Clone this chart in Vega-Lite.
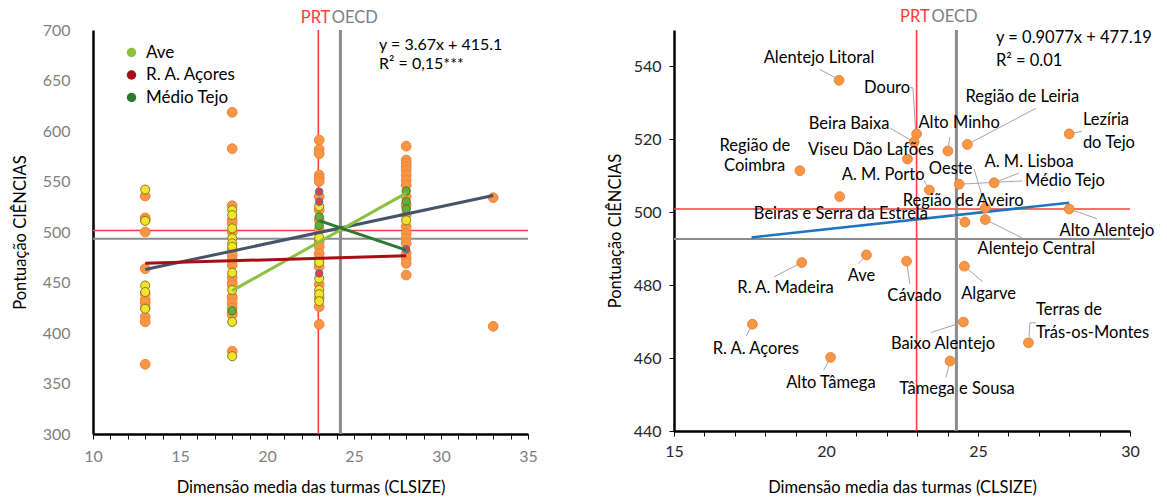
{
  "$schema": "https://vega.github.io/schema/vega-lite/v6.json",
  "padding": {"left": 12, "top": 9, "right": 2, "bottom": 0},
  "spacing": 69,
  "config": {
    "font": "Lato",
    "view": {"stroke": null},
    "axis": {"labelFont": "Lato", "titleFont": "Lato", "titleFontWeight": "normal", "titleColor": "#000000", "titleFontSize": 16.5, "labelFontSize": 16, "labelFlush": false, "gridDash": [2, 2], "gridColor": "#d9d9d9"}
  },
  "datasets": {
    "leftPts": [
      {"x": 13, "y": 535.6, "g": "o"}, {"x": 13, "y": 514, "g": "o"}, {"x": 13, "y": 512, "g": "o"}, {"x": 13, "y": 500, "g": "o"}, {"x": 13, "y": 463.6, "g": "o"}, {"x": 13, "y": 439, "g": "o"}, {"x": 13, "y": 433, "g": "o"}, {"x": 13, "y": 430, "g": "o"}, {"x": 13, "y": 425, "g": "o"}, {"x": 13, "y": 416, "g": "o"}, {"x": 13, "y": 411, "g": "o"}, {"x": 13, "y": 369, "g": "o"},
      {"x": 18, "y": 618.5, "g": "o"}, {"x": 18, "y": 582.5, "g": "o"}, {"x": 18, "y": 526, "g": "o"}, {"x": 18, "y": 512, "g": "o"}, {"x": 18, "y": 508.6, "g": "o"}, {"x": 18, "y": 500, "g": "o"}, {"x": 18, "y": 482, "g": "o"}, {"x": 18, "y": 477, "g": "o"}, {"x": 18, "y": 472, "g": "o"}, {"x": 18, "y": 467, "g": "o"}, {"x": 18, "y": 455, "g": "o"}, {"x": 18, "y": 449.8, "g": "o"}, {"x": 18, "y": 447.5, "g": "o"}, {"x": 18, "y": 436, "g": "o"}, {"x": 18, "y": 434, "g": "o"}, {"x": 18, "y": 429.4, "g": "o"}, {"x": 18, "y": 425, "g": "o"}, {"x": 18, "y": 420, "g": "o"}, {"x": 18, "y": 417.8, "g": "o"}, {"x": 18, "y": 382, "g": "o"},
      {"x": 23, "y": 591, "g": "o"}, {"x": 23, "y": 582, "g": "o"}, {"x": 23, "y": 577.5, "g": "o"}, {"x": 23, "y": 556.4, "g": "o"}, {"x": 23, "y": 553.2, "g": "o"}, {"x": 23, "y": 550, "g": "o"}, {"x": 23, "y": 535, "g": "o"}, {"x": 23, "y": 521.8, "g": "o"}, {"x": 23, "y": 511.9, "g": "o"}, {"x": 23, "y": 502, "g": "o"}, {"x": 23, "y": 490.4, "g": "o"}, {"x": 23, "y": 485.5, "g": "o"}, {"x": 23, "y": 478.9, "g": "o"}, {"x": 23, "y": 474, "g": "o"}, {"x": 23, "y": 465.7, "g": "o"}, {"x": 23, "y": 448, "g": "o"}, {"x": 23, "y": 434.4, "g": "o"}, {"x": 23, "y": 426, "g": "o"}, {"x": 23, "y": 408.5, "g": "o"},
      {"x": 28, "y": 585, "g": "o"}, {"x": 28, "y": 571.3, "g": "o"}, {"x": 28, "y": 568, "g": "o"}, {"x": 28, "y": 564.7, "g": "o"}, {"x": 28, "y": 561.4, "g": "o"}, {"x": 28, "y": 556.4, "g": "o"}, {"x": 28, "y": 551.5, "g": "o"}, {"x": 28, "y": 546.5, "g": "o"}, {"x": 28, "y": 535, "g": "o"}, {"x": 28, "y": 526.7, "g": "o"}, {"x": 28, "y": 516.8, "g": "o"}, {"x": 28, "y": 505.3, "g": "o"}, {"x": 28, "y": 498.7, "g": "o"}, {"x": 28, "y": 493.8, "g": "o"}, {"x": 28, "y": 488.8, "g": "o"}, {"x": 28, "y": 478.9, "g": "o"}, {"x": 28, "y": 474, "g": "o"}, {"x": 28, "y": 469, "g": "o"}, {"x": 28, "y": 457.4, "g": "o"},
      {"x": 33, "y": 534, "g": "o"}, {"x": 33, "y": 406.6, "g": "o"},
      {"x": 13, "y": 542, "g": "y"}, {"x": 13, "y": 511, "g": "y"}, {"x": 13, "y": 447, "g": "y"}, {"x": 13, "y": 440.6, "g": "y"}, {"x": 13, "y": 424, "g": "y"},
      {"x": 18, "y": 521.8, "g": "y"}, {"x": 18, "y": 516.8, "g": "y"}, {"x": 18, "y": 503.6, "g": "y"}, {"x": 18, "y": 493.8, "g": "y"}, {"x": 18, "y": 488.8, "g": "y"}, {"x": 18, "y": 485.5, "g": "y"}, {"x": 18, "y": 459.7, "g": "y"}, {"x": 18, "y": 442.6, "g": "y"}, {"x": 18, "y": 411, "g": "y"}, {"x": 18, "y": 377, "g": "y"},
      {"x": 23, "y": 525.5, "g": "y"}, {"x": 23, "y": 494.4, "g": "y"}, {"x": 23, "y": 470, "g": "y"}, {"x": 23, "y": 454, "g": "y"}, {"x": 23, "y": 442.6, "g": "y"}, {"x": 23, "y": 438.5, "g": "y"}, {"x": 23, "y": 431.5, "g": "y"},
      {"x": 28, "y": 511.5, "g": "y"},
      {"x": 18, "y": 422, "g": "g"}, {"x": 23, "y": 515, "g": "g"}, {"x": 23, "y": 506.5, "g": "g"}, {"x": 28, "y": 540.6, "g": "g"}, {"x": 28, "y": 530, "g": "g"}, {"x": 28, "y": 522.8, "g": "g"},
      {"x": 23, "y": 540, "g": "r"}, {"x": 23, "y": 530, "g": "r"}, {"x": 23, "y": 459, "g": "r"}, {"x": 28, "y": 482.9, "g": "r"}
    ],
    "leftLines": [
      {"region": "Ave", "x": 18, "y": 441.9}, {"region": "Ave", "x": 28, "y": 538.5},
      {"region": "R. A. Açores", "x": 13, "y": 469}, {"region": "R. A. Açores", "x": 28, "y": 476.5},
      {"region": "Médio Tejo", "x": 23, "y": 511.2}, {"region": "Médio Tejo", "x": 28, "y": 482}
    ],
    "rightPts": [
      {"name": "Alentejo Litoral", "x": 20.43, "y": 536.2},
      {"name": "Região de Coimbra", "x": 19.14, "y": 511.4},
      {"name": "Beiras e Serra da Estrela", "x": 20.45, "y": 504.3},
      {"name": "Douro", "x": 22.98, "y": 521.5},
      {"name": "Beira Baixa", "x": 22.9, "y": 519.3},
      {"name": "Viseu Dão Lafões", "x": 22.68, "y": 514.6},
      {"name": "Alto Minho", "x": 24.01, "y": 516.8},
      {"name": "Região de Leiria", "x": 24.65, "y": 518.6},
      {"name": "Lezíria do Tejo", "x": 28.0, "y": 521.5},
      {"name": "A. M. Porto", "x": 23.4, "y": 506.1},
      {"name": "Médio Tejo", "x": 24.38, "y": 507.7},
      {"name": "A. M. Lisboa", "x": 25.53, "y": 508.1},
      {"name": "Oeste", "x": 25.24, "y": 501.2},
      {"name": "Alentejo Central", "x": 25.24, "y": 498.0},
      {"name": "Região de Aveiro", "x": 24.57, "y": 497.3},
      {"name": "Alto Alentejo", "x": 28.0, "y": 500.9},
      {"name": "Ave", "x": 21.33, "y": 488.3},
      {"name": "R. A. Madeira", "x": 19.2, "y": 486.2},
      {"name": "Cávado", "x": 22.65, "y": 486.6},
      {"name": "Algarve", "x": 24.55, "y": 485.2},
      {"name": "Baixo Alentejo", "x": 24.52, "y": 469.9},
      {"name": "Terras de Trás-os-Montes", "x": 26.66, "y": 464.2},
      {"name": "Tâmega e Sousa", "x": 24.08, "y": 459.2},
      {"name": "R. A. Açores", "x": 17.58, "y": 469.3},
      {"name": "Alto Tâmega", "x": 20.15, "y": 460.2}
    ],
    "labelsC": [
      {"t": "Alentejo Litoral", "x": 19.77, "y": 542.2},
      {"t": "Douro", "x": 22.01, "y": 534.2},
      {"t": "Região de Leiria", "x": 26.46, "y": 531.6},
      {"t": "Beira Baixa", "x": 20.76, "y": 524.1},
      {"t": "Alto Minho", "x": 24.38, "y": 524.4},
      {"t": "Viseu Dão Lafões", "x": 21.48, "y": 517.1},
      {"t": "Região de", "x": 17.66, "y": 518.1},
      {"t": "Coimbra", "x": 17.65, "y": 512.6},
      {"t": "A. M. Porto", "x": 21.88, "y": 510.2},
      {"t": "Oeste", "x": 24.1, "y": 511.9},
      {"t": "A. M. Lisboa", "x": 26.68, "y": 513.9},
      {"t": "Médio Tejo", "x": 27.86, "y": 508.6},
      {"t": "Região de Aveiro", "x": 24.51, "y": 503.1},
      {"t": "Beiras e Serra da Estrela", "x": 20.49, "y": 499.5},
      {"t": "Alto Alentejo", "x": 29.24, "y": 494.9},
      {"t": "Alentejo Central", "x": 26.92, "y": 489.9},
      {"t": "Ave", "x": 21.17, "y": 482.4},
      {"t": "R. A. Madeira", "x": 18.67, "y": 479.25},
      {"t": "Cávado", "x": 22.91, "y": 476.9},
      {"t": "Algarve", "x": 25.35, "y": 477.5},
      {"t": "Baixo Alentejo", "x": 23.85, "y": 463.9},
      {"t": "R. A. Açores", "x": 17.69, "y": 462.5},
      {"t": "Alto Tâmega", "x": 20.16, "y": 453.25},
      {"t": "Tâmega e Sousa", "x": 24.31, "y": 451.5}
    ],
    "labelsL": [
      {"t": "Lezíria", "x": 28.45, "y": 525.3},
      {"t": "do Tejo", "x": 28.45, "y": 518.9},
      {"t": "Terras de", "x": 26.91, "y": 473.1},
      {"t": "Trás-os-Montes", "x": 26.91, "y": 466.75}
    ],
    "leaders": [
      {"x": 19.79, "y": 539.2, "x2": 20.32, "y2": 536.9},
      {"x": 22.77, "y": 534.25, "x2": 22.86, "y2": 534.1},
      {"x": 22.86, "y": 534.1, "x2": 22.95, "y2": 522.0},
      {"x": 26.9, "y": 528.5, "x2": 24.65, "y2": 518.6},
      {"x": 28.42, "y": 522.2, "x2": 28.0, "y2": 521.5},
      {"x": 22.11, "y": 523.1, "x2": 22.9, "y2": 519.2},
      {"x": 24.07, "y": 520.6, "x2": 24.01, "y2": 516.8},
      {"x": 23.22, "y": 508.8, "x2": 23.41, "y2": 506.1},
      {"x": 24.87, "y": 511.9, "x2": 25.25, "y2": 501.2},
      {"x": 26.35, "y": 510.75, "x2": 25.53, "y2": 508.1},
      {"x": 26.45, "y": 508.6, "x2": 24.38, "y2": 507.7},
      {"x": 24.14, "y": 499.5, "x2": 24.57, "y2": 497.3},
      {"x": 28.91, "y": 498.25, "x2": 28.0, "y2": 500.9},
      {"x": 26.46, "y": 492.9, "x2": 25.25, "y2": 498.0},
      {"x": 21.06, "y": 485.9, "x2": 21.33, "y2": 488.3},
      {"x": 18.29, "y": 482.3, "x2": 19.2, "y2": 486.2},
      {"x": 22.76, "y": 480.3, "x2": 22.65, "y2": 486.6},
      {"x": 25.15, "y": 481.0, "x2": 24.55, "y2": 485.2},
      {"x": 26.68, "y": 465.8, "x2": 26.71, "y2": 469.7},
      {"x": 26.71, "y": 469.7, "x2": 26.9, "y2": 469.7},
      {"x": 23.45, "y": 467.0, "x2": 24.52, "y2": 469.9},
      {"x": 17.37, "y": 466.0, "x2": 17.58, "y2": 469.3},
      {"x": 19.92, "y": 456.6, "x2": 20.15, "y2": 460.2},
      {"x": 23.95, "y": 454.7, "x2": 24.08, "y2": 459.2}
    ]
  },
  "hconcat": [
    {
      "width": 435,
      "height": 404,
      "encoding": {
        "x": {"type": "quantitative", "scale": {"domain": [10, 35], "nice": false, "zero": false},
          "axis": {"title": "Dimensão media das turmas (CLSIZE)", "values": [10,11,12,13,14,15,16,17,18,19,20,21,22,23,24,25,26,27,28,29,30,31,32,33,34,35],
            "labelExpr": "datum.value % 5 === 0 ? datum.label : ''", "labelColor": "#7f7f7f", "labelPadding": 9, "tickSize": 5, "tickColor": "#000000", "domainColor": "#000000", "domainWidth": 2.5, "titlePadding": 15,
            "gridColor": {"condition": {"test": "datum.value % 5 === 0", "value": "#d9d9d9"}, "value": "transparent"}}},
        "y": {"type": "quantitative", "scale": {"domain": [300, 700], "nice": false, "zero": false},
          "axis": {"title": "Pontuação CIÊNCIAS", "values": [300,350,400,450,500,550,600,650,700], "labelColor": "#7f7f7f", "ticks": false, "labelPadding": 23, "domainColor": "#000000", "domainWidth": 2.5, "titlePadding": 14}}
      },
      "layer": [
        {"data": {"values": [{}]}, "mark": {"type": "rule", "color": "#8c8c8c", "strokeWidth": 2}, "encoding": {"y": {"datum": 493.4}}},
        {"data": {"values": [{}]}, "mark": {"type": "rule", "color": "#ff3b3b", "strokeWidth": 1.6}, "encoding": {"y": {"datum": 501.5}}},
        {"data": {"values": [{}]}, "mark": {"type": "rule", "color": "#8c8c8c", "strokeWidth": 3}, "encoding": {"x": {"datum": 24.22}}},
        {"data": {"values": [{}]}, "mark": {"type": "rule", "color": "#ff3b3b", "strokeWidth": 1.6}, "encoding": {"x": {"datum": 22.95}}},
        {
          "data": {"name": "leftPts"},
          "mark": {"type": "point", "filled": true, "shape": "circle", "opacity": 1, "strokeWidth": 1},
          "encoding": {
            "x": {"field": "x", "type": "quantitative"},
            "y": {"field": "y", "type": "quantitative"},
            "fill": {"field": "g", "type": "nominal", "scale": {"domain": ["o", "y", "g", "r"], "range": ["#f79646", "#f1e52b", "#6aaa3a", "#ee3b3b"]}, "legend": null},
            "stroke": {"field": "g", "type": "nominal", "scale": {"domain": ["o", "y", "g", "r"], "range": ["#f08436", "#857a1c", "#3f7a1f", "#4a6fb5"]}, "legend": null},
            "size": {"field": "g", "type": "nominal", "scale": {"domain": ["o", "y", "g", "r"], "range": [95, 55, 65, 65]}, "legend": null}
          }
        },
        {
          "data": {"values": [{"x": 13, "y": 462.8}, {"x": 33, "y": 536.2}]},
          "mark": {"type": "line", "color": "#44546a", "strokeWidth": 3},
          "encoding": {"x": {"field": "x", "type": "quantitative"}, "y": {"field": "y", "type": "quantitative"}}
        },
        {
          "data": {"name": "leftLines"},
          "mark": {"type": "point", "filled": true, "shape": "circle", "size": 0, "opacity": 1},
          "encoding": {
            "x": {"field": "x", "type": "quantitative"},
            "y": {"field": "y", "type": "quantitative"},
            "color": {"field": "region", "type": "nominal", "scale": {"domain": ["Ave", "R. A. Açores", "Médio Tejo"], "range": ["#8cc13f", "#a50f15", "#2a7a30"]},
              "legend": {"title": null, "orient": "none", "legendX": 30, "legendY": 14, "symbolType": "circle", "symbolSize": 90, "symbolStrokeWidth": 0, "labelFontSize": 17, "labelFont": "Lato", "labelColor": "#000000", "rowPadding": 4.5, "labelOffset": 6}}
          }
        },
        {
          "data": {"name": "leftLines"},
          "mark": {"type": "line", "strokeWidth": 3},
          "encoding": {
            "x": {"field": "x", "type": "quantitative"},
            "y": {"field": "y", "type": "quantitative"},
            "color": {"field": "region", "type": "nominal", "scale": {"domain": ["Ave", "R. A. Açores", "Médio Tejo"], "range": ["#8cc13f", "#a50f15", "#2a7a30"]}, "legend": null}
          }
        },
        {
          "data": {"values": [{"t": "y = 3.67x + 415.1", "x": 26.44, "y": 685.3}, {"t": "R² = 0,15***", "x": 26.44, "y": 666.6}]},
          "mark": {"type": "text", "align": "left", "baseline": "middle", "fontSize": 16, "color": "#000000"},
          "encoding": {"x": {"field": "x", "type": "quantitative"}, "y": {"field": "y", "type": "quantitative"}, "text": {"field": "t"}}
        },
        {"data": {"values": [{}]}, "mark": {"type": "text", "text": "PRT", "align": "right", "baseline": "middle", "fontSize": 16.5, "color": "#ff3b3b"}, "encoding": {"x": {"datum": 23.64}, "y": {"datum": 711.6}}},
        {"data": {"values": [{}]}, "mark": {"type": "text", "text": "OECD", "align": "left", "baseline": "middle", "fontSize": 16.5, "color": "#7f7f7f"}, "encoding": {"x": {"datum": 23.72}, "y": {"datum": 711.6}}}
      ]
    },
    {
      "width": 456,
      "height": 401,
      "encoding": {
        "x": {"type": "quantitative", "scale": {"domain": [15, 30], "nice": false, "zero": false},
          "axis": {"title": "Dimensão media das turmas (CLSIZE)", "values": [15,16,17,18,19,20,21,22,23,24,25,26,27,28,29,30],
            "labelExpr": "datum.value % 5 === 0 ? datum.label : ''", "labelColor": "#262626", "labelPadding": 7, "tickSize": 5, "tickColor": "#000000", "domainColor": "#000000", "domainWidth": 2.5, "titlePadding": 20,
            "gridColor": {"condition": {"test": "datum.value % 5 === 0", "value": "#d9d9d9"}, "value": "transparent"}}},
        "y": {"type": "quantitative", "scale": {"domain": [440, 550], "nice": false, "zero": false},
          "axis": {"title": "Pontuação CIÊNCIAS", "values": [440, 460, 480, 500, 520, 540], "labelColor": "#262626", "tickSize": 5, "tickColor": "#000000", "labelPadding": 8, "domainColor": "#000000", "domainWidth": 2.5, "titlePadding": 10}}
      },
      "layer": [
        {"data": {"values": [{}]}, "mark": {"type": "rule", "color": "#8c8c8c", "strokeWidth": 2}, "encoding": {"y": {"datum": 492.7}}},
        {"data": {"values": [{}]}, "mark": {"type": "rule", "color": "#ff3b3b", "strokeWidth": 1.6}, "encoding": {"y": {"datum": 500.9}}},
        {"data": {"values": [{}]}, "mark": {"type": "rule", "color": "#8c8c8c", "strokeWidth": 3}, "encoding": {"x": {"datum": 24.29}}},
        {"data": {"values": [{}]}, "mark": {"type": "rule", "color": "#ff3b3b", "strokeWidth": 1.6}, "encoding": {"x": {"datum": 22.98}}},
        {
          "data": {"values": [{"x": 17.55, "y": 493.1}, {"x": 28.0, "y": 502.6}]},
          "mark": {"type": "line", "color": "#1f74c0", "strokeWidth": 2.5},
          "encoding": {"x": {"field": "x", "type": "quantitative"}, "y": {"field": "y", "type": "quantitative"}}
        },
        {
          "data": {"name": "leaders"},
          "mark": {"type": "rule", "color": "#a6a6a6", "strokeWidth": 1},
          "encoding": {"x": {"field": "x", "type": "quantitative"}, "y": {"field": "y", "type": "quantitative"}, "x2": {"field": "x2"}, "y2": {"field": "y2"}}
        },
        {
          "data": {"name": "rightPts"},
          "mark": {"type": "point", "filled": true, "shape": "circle", "size": 95, "fill": "#f79646", "stroke": "#f08436", "strokeWidth": 1, "opacity": 1},
          "encoding": {"x": {"field": "x", "type": "quantitative"}, "y": {"field": "y", "type": "quantitative"}}
        },
        {
          "data": {"name": "labelsC"},
          "mark": {"type": "text", "align": "center", "baseline": "middle", "fontSize": 16.5, "color": "#000000"},
          "encoding": {"x": {"field": "x", "type": "quantitative"}, "y": {"field": "y", "type": "quantitative"}, "text": {"field": "t"}}
        },
        {
          "data": {"name": "labelsL"},
          "mark": {"type": "text", "align": "left", "baseline": "middle", "fontSize": 16.5, "color": "#000000"},
          "encoding": {"x": {"field": "x", "type": "quantitative"}, "y": {"field": "y", "type": "quantitative"}, "text": {"field": "t"}}
        },
        {
          "data": {"values": [{"t": "y = 0.9077x + 477.19", "x": 25.59, "y": 547.8}, {"t": "R² = 0.01", "x": 25.59, "y": 541.6}]},
          "mark": {"type": "text", "align": "left", "baseline": "middle", "fontSize": 16.5, "color": "#000000"},
          "encoding": {"x": {"field": "x", "type": "quantitative"}, "y": {"field": "y", "type": "quantitative"}, "text": {"field": "t"}}
        },
        {"data": {"values": [{}]}, "mark": {"type": "text", "text": "PRT", "align": "right", "baseline": "middle", "fontSize": 16.5, "color": "#ff3b3b"}, "encoding": {"x": {"datum": 23.41}, "y": {"datum": 553.5}}},
        {"data": {"values": [{}]}, "mark": {"type": "text", "text": "OECD", "align": "left", "baseline": "middle", "fontSize": 16.5, "color": "#7f7f7f"}, "encoding": {"x": {"datum": 23.47}, "y": {"datum": 553.5}}}
      ]
    }
  ]
}
